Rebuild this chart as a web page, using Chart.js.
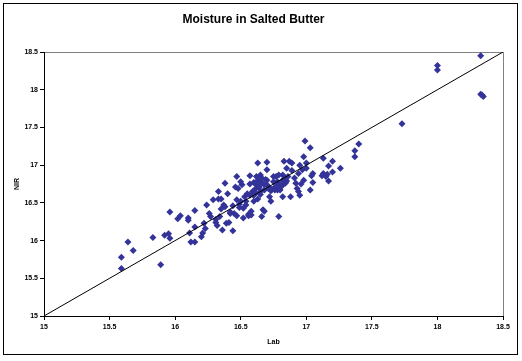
<!DOCTYPE html>
<html>
<head>
<meta charset="utf-8">
<script src="https://cdn.jsdelivr.net/npm/chart.js@4/dist/chart.umd.min.js"></script>
<style>
html,body{margin:0;padding:0;background:#fff;}
#wrap{width:522px;height:361px;position:relative;}
</style>
</head>
<body>
<div id="wrap"><canvas id="c" width="522" height="361"></canvas></div>
<script>
const titleText = "Moisture in Salted Butter";
const xTitle = "Lab";
const yTitle = "NIR";
const axisMin = 15;
const axisMax = 18.5;
const axisStep = 0.5;

const labX = [
15.59,15.59,15.64,15.68,15.83,15.89,15.92,15.95,15.96,15.96,16.02,16.04,16.10,16.10,16.11,16.12,16.15,16.15,16.15,16.20,
16.21,16.22,16.23,16.24,16.26,16.27,16.29,16.31,16.31,16.32,16.33,16.33,16.34,16.35,16.35,16.36,16.37,16.38,16.38,16.39,
16.40,16.41,16.42,16.42,16.44,16.44,16.45,16.46,16.47,16.47,16.47,16.48,16.49,16.49,16.50,16.50,16.51,16.52,16.52,16.53,
16.54,16.54,16.55,16.56,16.56,16.57,16.57,16.58,16.58,16.59,16.59,16.60,16.60,16.61,16.61,16.62,16.62,16.63,16.63,16.64,
16.64,16.65,16.65,16.66,16.66,16.67,16.68,16.68,16.69,16.70,16.70,16.70,16.71,16.72,16.73,16.73,16.74,16.75,16.75,16.76,
16.77,16.77,16.78,16.78,16.79,16.79,16.80,16.80,16.81,16.82,16.82,16.82,16.83,16.84,16.84,16.85,16.85,16.86,16.87,16.88,
16.89,16.89,16.91,16.92,16.93,16.94,16.94,16.95,16.95,16.96,16.97,16.98,16.98,16.99,17.00,17.00,17.03,17.03,17.04,17.05,
17.05,17.12,17.13,17.13,17.15,17.16,17.17,17.17,17.20,17.20,17.26,17.37,17.37,17.40,17.73,18.00,18.00,18.33,18.33,18.34,
18.35,
16.62,16.64,16.66,16.68,16.70,16.72,16.76,16.78,16.80,16.82,16.84,16.83,16.65,16.60,16.57
];
const nirY = [
15.78,15.63,15.98,15.87,16.04,15.68,16.07,16.09,16.03,16.38,16.29,16.33,16.30,16.27,16.10,15.98,15.98,16.40,16.18,16.05,
16.10,16.23,16.16,16.47,16.36,16.32,16.54,16.28,16.24,16.20,16.65,16.55,16.32,16.42,16.55,16.14,16.47,16.76,16.45,16.23,
16.62,16.24,16.38,16.36,16.13,16.46,16.36,16.71,16.54,16.33,16.85,16.69,16.48,16.44,16.78,16.52,16.74,16.30,16.43,16.58,
16.47,16.52,16.62,16.33,16.35,16.86,16.75,16.34,16.39,16.65,16.61,16.52,16.77,16.68,16.63,16.85,16.74,16.55,17.03,16.80,
16.70,16.61,16.87,16.32,16.77,16.41,16.67,16.39,16.81,17.04,16.94,16.74,16.69,16.58,16.66,16.52,16.68,16.85,16.78,16.67,
16.72,16.85,16.67,16.78,16.32,16.87,16.67,16.74,16.72,16.58,16.80,16.87,17.05,16.77,16.83,16.96,16.79,16.85,17.05,16.58,
16.93,17.03,16.83,16.76,16.69,16.89,16.65,17.00,16.60,16.75,16.94,17.11,16.80,17.32,16.96,17.03,16.67,17.23,16.86,16.77,
16.89,16.86,17.09,16.89,16.85,16.88,16.99,16.79,16.91,17.05,16.96,17.19,17.11,17.28,17.55,18.32,18.26,18.45,17.94,17.93,
17.91,
16.78,16.72,16.83,16.74,16.80,16.70,16.70,16.72,16.70,16.74,16.76,16.80,16.65,16.60,16.60
];
const refLineX = [15, 18.5];
const refLineY = [15, 18.5];

const points = labX.map((x, i) => ({x: x, y: nirY[i]}));
const linePts = refLineX.map((x, i) => ({x: x, y: refLineY[i]}));

const frame = {
  id: 'frame',
  beforeDraw(chart) {
    const ctx = chart.ctx, a = chart.chartArea;
    ctx.save();
    ctx.fillStyle = '#fff';
    ctx.fillRect(0, 0, chart.width, chart.height);
    ctx.strokeStyle = '#808080';
    ctx.lineWidth = 1;
    ctx.strokeRect(Math.round(a.left) + 0.5, Math.round(a.top) + 0.5, Math.round(a.right - a.left), Math.round(a.bottom - a.top));
    ctx.restore();
  },
  afterDraw(chart) {
    const ctx = chart.ctx;
    ctx.save();
    ctx.strokeStyle = '#000';
    ctx.lineWidth = 1;
    ctx.strokeRect(3.5, 3.5, 514, 351);
    ctx.restore();
  }
};

const tickFont = {family: '"Liberation Sans", Arial, sans-serif', size: 7, weight: 'bold'};
const axisTitleFont = {family: '"Liberation Sans", Arial, sans-serif', size: 7, weight: 'bold'};
const fmt = (v) => String(Math.round(v * 10) / 10);

new Chart(document.getElementById('c'), {
  type: 'scatter',
  data: {
    datasets: [
      {
        label: 'Data',
        data: points,
        pointStyle: 'rectRot',
        pointRadius: 3.5,
        pointHoverRadius: 3.5,
        backgroundColor: '#333399',
        borderColor: '#333399',
        borderWidth: 0,
        order: 2
      },
      {
        type: 'line',
        label: 'Line',
        data: linePts,
        borderColor: '#000',
        borderWidth: 1,
        pointRadius: 0,
        fill: false,
        order: 1
      }
    ]
  },
  options: {
    responsive: false,
    animation: false,
    devicePixelRatio: 1,
    layout: {padding: {left: 4, right: 19, top: 0, bottom: 0}},
    plugins: {
      legend: {display: false},
      tooltip: {enabled: false},
      title: {
        display: true,
        text: titleText,
        color: '#000',
        font: {family: '"Liberation Sans", Arial, sans-serif', size: 12, weight: 'bold'},
        padding: {top: 12, bottom: 25.6}
      }
    },
    scales: {
      x: {
        type: 'linear',
        min: axisMin, max: axisMax,
        ticks: {stepSize: axisStep, color: '#000', font: tickFont, padding: 3, maxRotation: 0, callback: fmt},
        grid: {display: true, drawOnChartArea: false, drawTicks: true, tickLength: 4, color: '#000'},
        border: {display: true, color: '#000', width: 1},
        title: {display: true, text: xTitle, color: '#000', font: axisTitleFont, padding: {top: 0, bottom: 15}},
        afterFit(s) { s.height = 45; }
      },
      y: {
        type: 'linear',
        min: axisMin, max: axisMax,
        ticks: {stepSize: axisStep, color: '#000', font: tickFont, padding: 2, callback: fmt},
        grid: {display: true, drawOnChartArea: false, drawTicks: true, tickLength: 4, color: '#000'},
        border: {display: true, color: '#000', width: 1},
        title: {display: true, text: yTitle, color: '#000', font: axisTitleFont, padding: {top: 9, bottom: 0}},
        afterFit(s) { s.width = 40; }
      }
    }
  },
  plugins: [frame]
});
</script>
</body>
</html>
